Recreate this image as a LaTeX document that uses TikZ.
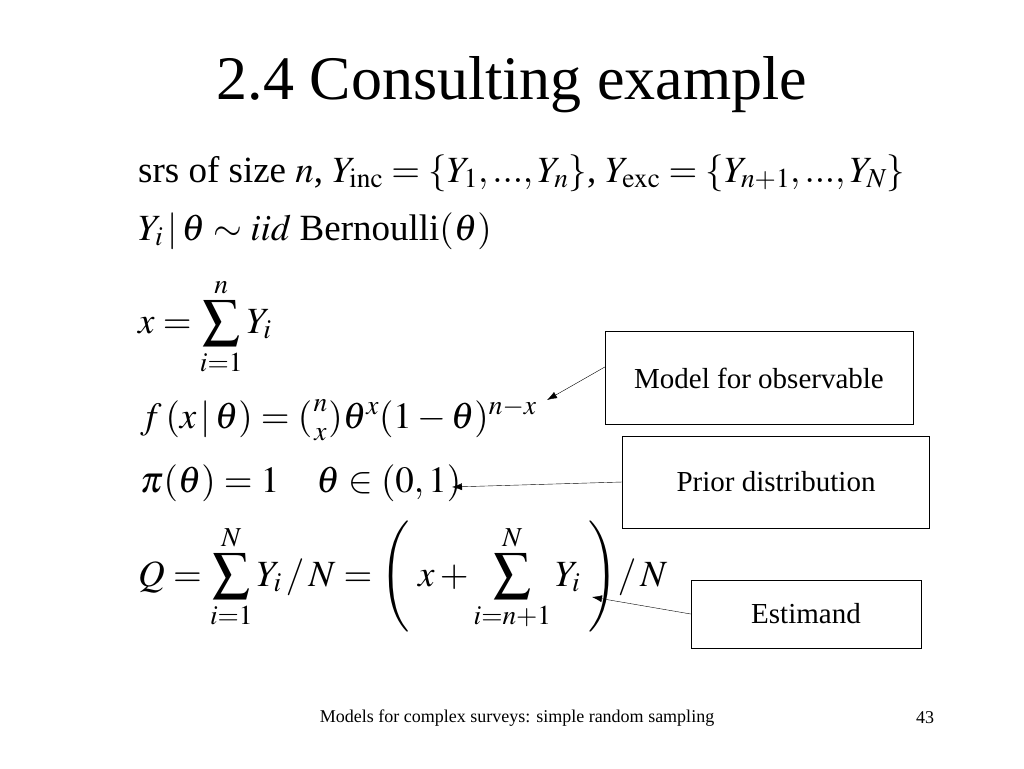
\documentclass[tikz,border=0pt]{standalone}
\usepackage{mathptmx}
\usepackage{amsmath}
\usepackage{fontspec}
\setmainfont{Liberation Serif}
\usetikzlibrary{positioning,arrows.meta}
\tikzset{
  eqline/.style={anchor=base west, inner sep=0pt, font=\fontsize{37}{40}\selectfont},
  notebox/.style={draw, thin, inner sep=0pt, font=\fontsize{29}{34}\selectfont},
  pointer/.style={-{Latex[length=10pt,width=7pt]}, thin},
}
\begin{document}
\begin{tikzpicture}[x=1pt,y=-1pt]
  \useasboundingbox (0,0) rectangle (1024,768);
  \node[font=\fontsize{62}{66}\selectfont] (title) at (512,85) {2.4 Consulting example};

  \node[eqline] (srs) at (138,182) {srs of size $n$, $Y_{\mathrm{inc}}=\{Y_1,...,Y_n\}$, $Y_{\mathrm{exc}}=\{Y_{n+1},...,Y_N\}$};
  \node[eqline] (bern) at (138,240) {$Y_i\,|\,\theta\sim \mathit{iid}$ Bernoulli$(\theta)$};
  \node[eqline] (sumx) at (138,333) {$x=\displaystyle\sum_{i=1}^{n}Y_i$};
  \node[eqline] (lik) at (140,428) {$f\,(x\,|\,\theta)=(\genfrac{}{}{0pt}{1}{n}{x})\theta^{x}(1-\theta)^{n-x}$};
  \node[eqline] (prior) at (140,492) {$\pi(\theta)=1\quad \theta\in(0,1)$};
  \node[eqline] (estq) at (138,586) {$Q=\displaystyle\sum_{i=1}^{N}Y_i\,/\,N=\Bigg(\;x+\sum_{i=n+1}^{N}Y_i\;\Bigg)/\,N$};

  \node[notebox, minimum width=308, minimum height=93] (obsbox) at (759,378) {Model for observable};
  \node[notebox, minimum width=307, minimum height=92] (priorbox) at (776,482) {Prior distribution};
  \node[notebox, minimum width=230, minimum height=68] (estbox) at (806,614) {Estimand};

  \coordinate (obstip) at (547,400);
  \coordinate (priortip) at (452,487);
  \coordinate (esttip) at (592,597);
  \draw[pointer] (obsbox.west) ++(0,-11) -- (obstip);
  \draw[pointer] (priorbox.west) -- (priortip);
  \draw[pointer] (estbox.west) -- (esttip);

  \node[font=\fontsize{18}{20}\selectfont] (foot) at (517,718) {Models for complex surveys: simple random sampling};
  \node[font=\fontsize{18}{20}\selectfont] (page) at (925,718) {43};
\end{tikzpicture}
\end{document}
